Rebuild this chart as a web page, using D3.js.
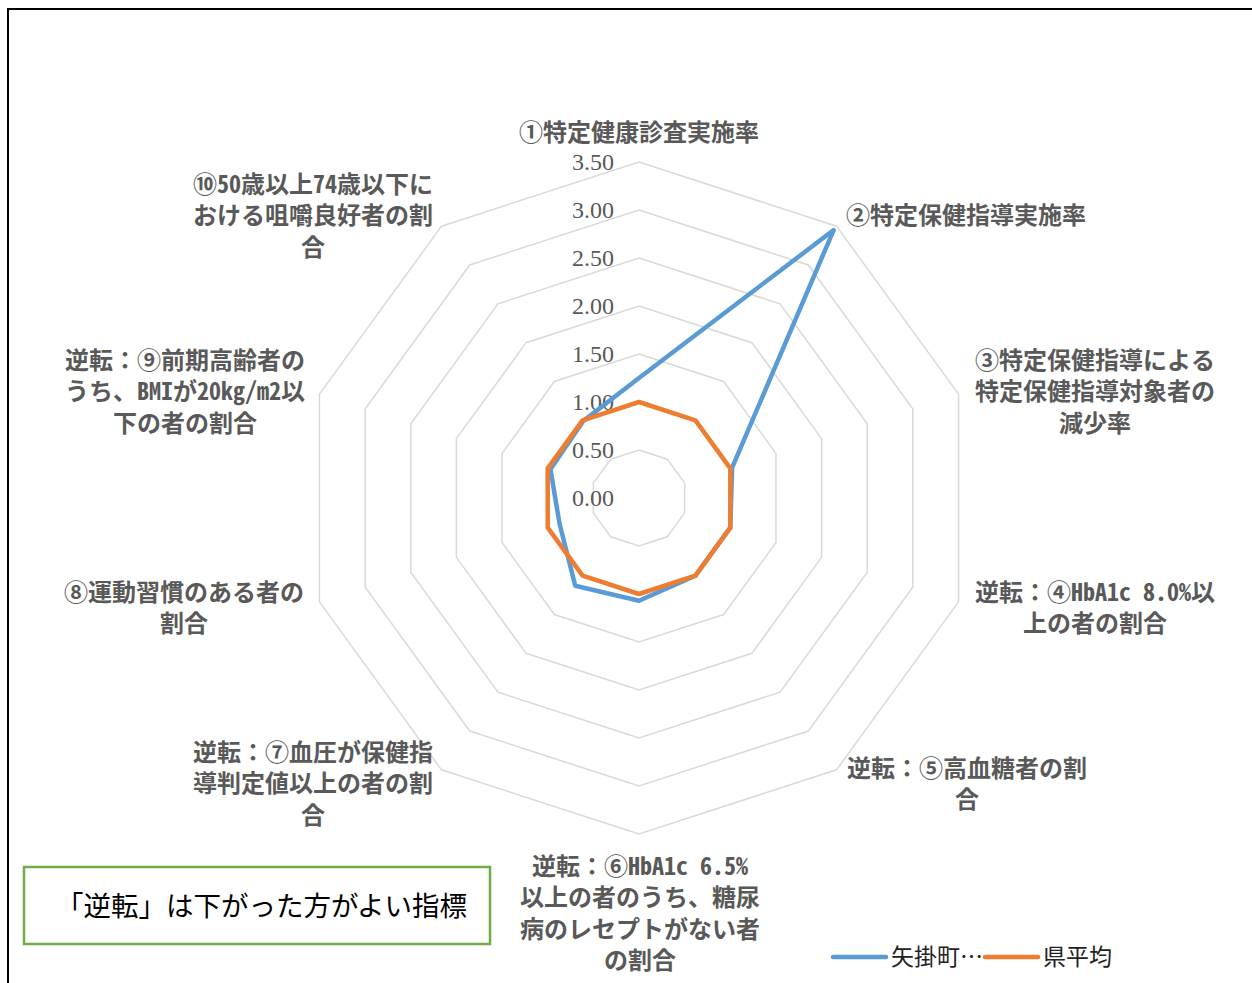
<!DOCTYPE html>
<html><head><meta charset="utf-8">
<script src="https://cdn.jsdelivr.net/npm/d3@7"></script>
<style>body{margin:0;background:#fff}svg{display:block}</style>
</head><body>
<svg id="c" width="1252" height="983"></svg>
<script>
const categories = [
  ["①特定健康診査実施率"],
  ["②特定保健指導実施率"],
  ["③特定保健指導による","特定保健指導対象者の","減少率"],
  ["逆転：④HbA1c 8.0%以","上の者の割合"],
  ["逆転：⑤高血糖者の割","合"],
  ["逆転：⑥HbA1c 6.5%","以上の者のうち、糖尿","病のレセプトがない者","の割合"],
  ["逆転：⑦血圧が保健指","導判定値以上の者の割","合"],
  ["⑧運動習慣のある者の","割合"],
  ["逆転：⑨前期高齢者の","うち、BMIが20kg/m2以","下の者の割合"],
  ["⑩50歳以上74歳以下に","おける咀嚼良好者の割","合"]
];
const seriesNames = ["矢掛町…", "県平均"];
const yakageValues = [1.25, 3.45, 1.02, 1.0, 1.0, 1.07, 1.13, 0.87, 0.97, 0.99];
const prefValues   = [1.0, 1.0, 1.0, 1.0, 1.0, 1.0, 1.0, 1.0, 1.0, 1.0];
const tickValues = [0, 0.5, 1.0, 1.5, 2.0, 2.5, 3.0, 3.5];
const colors = ["#5B9BD5", "#ED7D31"];

const svg = d3.select("#c");
const cx = 639, cy = 498;
const r = d3.scaleLinear().domain([0, 3.5]).range([0, 336]);
const n = categories.length;
const ang = d3.scaleLinear().domain([0, n]).range([0, 2*Math.PI]);
const pt = (i, v) => [cx + r(v)*Math.sin(ang(i)), cy - r(v)*Math.cos(ang(i))];

// frame
svg.append("path").attr("d","M8,1000 L8,9 L1260,9").attr("fill","none").attr("stroke","#000").attr("stroke-width",2);

// grid polygons
tickValues.filter(t=>t>0).forEach(t=>{
  svg.append("path")
    .attr("d", d3.line()(d3.range(n).map(i=>pt(i,t))) + "Z")
    .attr("fill","none").attr("stroke","#D9D9D9").attr("stroke-width",1.5);
});

// tick labels
svg.selectAll("text.tick").data(tickValues).join("text")
  .attr("class","tick")
  .attr("x", cx - 25).attr("y", d => cy - r(d) + 8)
  .attr("text-anchor","end")
  .attr("font-family","Liberation Serif, serif").attr("font-size",24)
  .attr("fill","#595959")
  .text(d => d3.format(".2f")(d));

// series
const line = d3.line().curve(d3.curveLinearClosed);
[yakageValues, prefValues].forEach((vals, k)=>{
  svg.append("path")
    .attr("d", line(vals.map((v,i)=>pt(i,v))))
    .attr("fill","none").attr("stroke",colors[k]).attr("stroke-width",4.5)
    .attr("stroke-linejoin","round");
});

// category labels: [anchor, x, firstLineY]
const labelPos = [
  ["middle", 639, 141],
  ["start", 846, 224],
  ["middle", 1095, 369],
  ["middle", 1095, 601],
  ["middle", 967, 777],
  ["middle", 640, 875],
  ["middle", 313, 761],
  ["middle", 184, 601],
  ["middle", 185, 369],
  ["middle", 313, 193]
];
categories.forEach((lines,i)=>{
  const [anc,x,y] = labelPos[i];
  const t = svg.append("text").attr("text-anchor",anc)
    .attr("font-family","'Noto Sans Mono CJK JP', 'Noto Sans CJK JP'").attr("font-weight","bold")
    .attr("font-size",24).attr("fill","#595959");
  lines.forEach((s,j)=>{
    t.append("tspan").attr("x",x).attr("y",y + j*31.3).text(s);
  });
});

// note box
svg.append("rect").attr("x",24).attr("y",867).attr("width",466).attr("height",77)
  .attr("fill","none").attr("stroke","#70AD47").attr("stroke-width",2.5);
svg.append("text").attr("x",56).attr("y",916)
  .attr("font-family","Noto Sans CJK JP").attr("font-size",27.5).attr("fill","#000")
  .text("「逆転」は下がった方がよい指標");

// legend
const legX = [833, 985];
seriesNames.forEach((nm,k)=>{
  svg.append("line").attr("x1",legX[k]).attr("x2",legX[k]+53).attr("y1",957).attr("y2",957)
    .attr("stroke",colors[k]).attr("stroke-width",4.5).attr("stroke-linecap","round");
  svg.append("text").attr("x",legX[k]+58).attr("y",965)
    .attr("font-family","Noto Sans CJK JP").attr("font-size",23).attr("fill","#222")
    .text(nm);
});
</script>
</body></html>
